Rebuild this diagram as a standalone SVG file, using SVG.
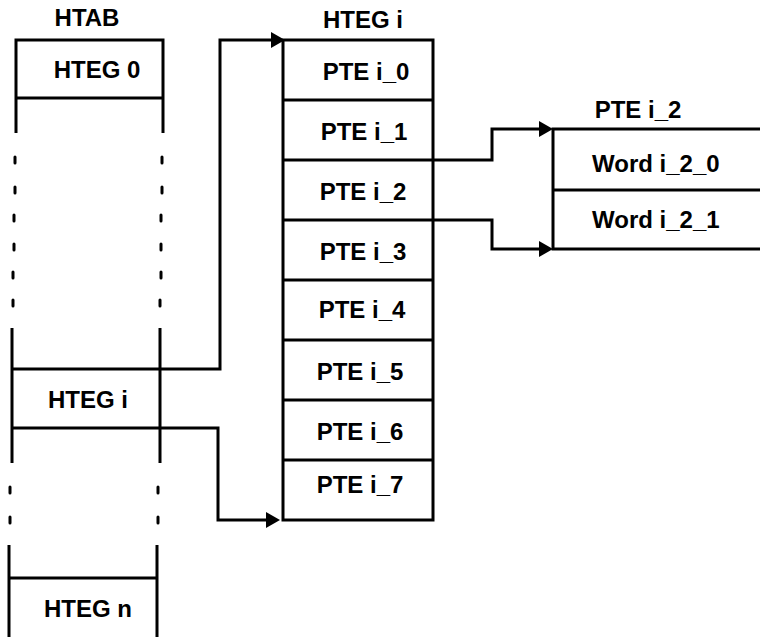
<svg xmlns="http://www.w3.org/2000/svg" width="760" height="637" viewBox="0 0 760 637">
<style>
.ln{stroke:#000;stroke-width:3;fill:none;stroke-linecap:butt;stroke-linejoin:miter}
.dot{stroke:#000;stroke-width:3;stroke-linecap:round}
.t{font-family:"Liberation Sans",Arial,sans-serif;font-weight:bold;font-size:24px;fill:#000}
.m{text-anchor:middle}
</style>
<defs>
<marker id="arr" markerUnits="userSpaceOnUse" markerWidth="14" markerHeight="16" viewBox="0 0 14 16" refX="8" refY="8" orient="auto">
<path d="M0,0 L14,8 L0,16 z" fill="#000"/>
</marker>
</defs>
<rect width="760" height="637" fill="#fff"/>

<g id="htab">
<text class="t m" x="87" y="26">HTAB</text>
<path class="ln" d="M16,133 V40 H163 V133 M16,98 H163"/>
<g class="dot">
<line x1="15" y1="157" x2="15" y2="163"/><line x1="162" y1="157" x2="162" y2="163"/>
<line x1="15" y1="187" x2="15" y2="193"/><line x1="162" y1="187" x2="162" y2="193"/>
<line x1="14" y1="215" x2="14" y2="221"/><line x1="161" y1="215" x2="161" y2="221"/>
<line x1="14" y1="244" x2="14" y2="250"/><line x1="161" y1="244" x2="161" y2="250"/>
<line x1="13" y1="272" x2="13" y2="278"/><line x1="161" y1="272" x2="161" y2="278"/>
<line x1="13" y1="300" x2="13" y2="306"/><line x1="160" y1="300" x2="160" y2="306"/>
<line x1="10" y1="487" x2="10" y2="493"/><line x1="158" y1="487" x2="158" y2="493"/>
<line x1="10" y1="517" x2="10" y2="523"/><line x1="158" y1="517" x2="158" y2="523"/>
</g>
<path class="ln" d="M12,328 V463 M160,328 V463 M12,369 H160 M12,428 H160"/>
<path class="ln" d="M9,545 V637 M157,545 V637 M9,578 H157"/>
</g>
<g id="hteg0"><text class="t m" x="97" y="78">HTEG 0</text></g>
<g id="htegi-entry"><text class="t m" x="88" y="408">HTEG i</text></g>
<g id="htegn"><text class="t m" x="88" y="617">HTEG n</text></g>

<g id="htegi">
<text class="t m" x="363" y="28">HTEG i</text>
<rect class="ln" x="283" y="40" width="150" height="480"/>
<path class="ln" d="M283,100 H433 M283,160 H433 M283,220 H433 M283,280 H433 M283,340 H433 M283,400 H433 M283,460 H433"/>
<text class="t m" x="366" y="80">PTE i_0</text>
<text class="t m" x="364" y="140">PTE i_1</text>
<text class="t m" x="363" y="200">PTE i_2</text>
<text class="t m" x="363" y="260">PTE i_3</text>
<text class="t m" x="362" y="318">PTE i_4</text>
<text class="t m" x="360" y="380">PTE i_5</text>
<text class="t m" x="360" y="440">PTE i_6</text>
<text class="t m" x="360" y="493">PTE i_7</text>
</g>

<g id="ptei2">
<text class="t m" x="638" y="118">PTE i_2</text>
<path class="ln" d="M760,129 H553 V249 H760 M553,190 H760"/>
<text class="t" x="592" y="172">Word i_2_0</text>
<text class="t" x="592" y="228">Word i_2_1</text>
</g>

<g id="connectors">
<path class="ln" d="M160,369 H220 V40 H279" marker-end="url(#arr)"/>
<path class="ln" d="M160,428 H218 V520 H274" marker-end="url(#arr)"/>
<path class="ln" d="M433,160 H492 V129 H547" marker-end="url(#arr)"/>
<path class="ln" d="M433,220 H492 V249 H547" marker-end="url(#arr)"/>
</g>
</svg>
